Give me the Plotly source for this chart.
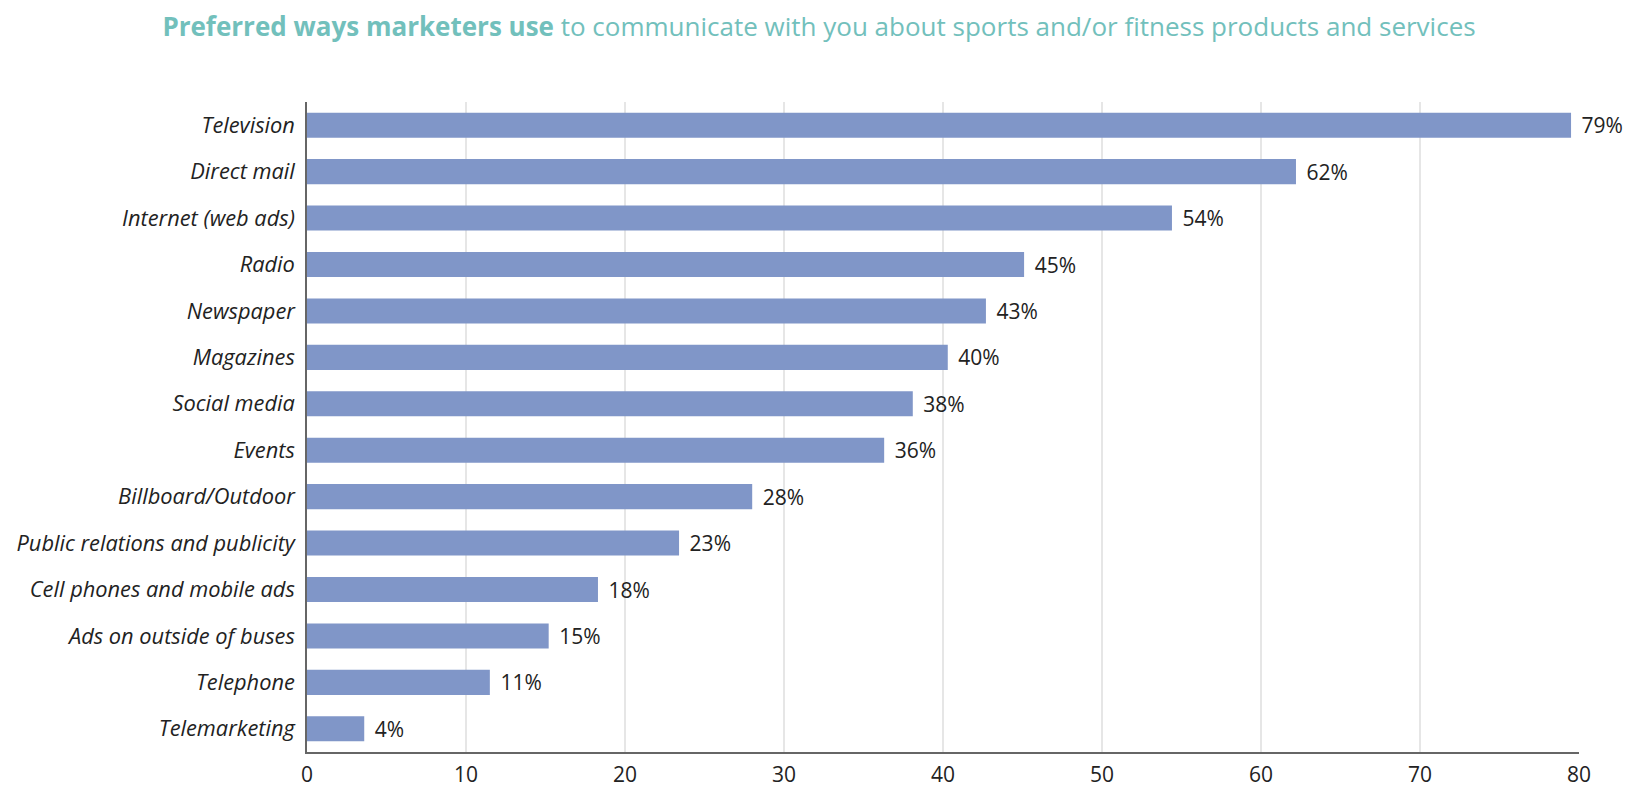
import plotly.graph_objects as go

kategoriak = ['Television', 'Direct mail', 'Internet (web ads)', 'Radio', 'Newspaper',
              'Magazines', 'Social media', 'Events', 'Billboard/Outdoor',
              'Public relations and publicity', 'Cell phones and mobile ads',
              'Ads on outside of buses', 'Telephone', 'Telemarketing']
ertekek = [79.5, 62.2, 54.4, 45.1, 42.7, 40.3, 38.1, 36.3, 28, 23.4, 18.3, 15.2, 11.5, 3.6]
cimkek = ['79%', '62%', '54%', '45%', '43%', '40%', '38%', '36%', '28%', '23%', '18%', '15%', '11%', '4%']

fig = go.Figure(go.Bar(x=ertekek, y=kategoriak,
                       orientation='h',
                       width=0.54,
                       marker={'color': '#8096c8', 'line': {'width': 0}},
                       text=['\u00a0\u200a' + c for c in cimkek],
                       textposition='outside',
                       constraintext='none',
                       cliponaxis=False,
                       textfont={'size': 21, 'color': '#222222'}
                       ))

fig.update_layout(
    title={'text': '<b>Preferred ways marketers use</b> to communicate with you about sports and/or fitness products and services',
           'x': 0.5, 'xanchor': 'center', 'y': 0.988, 'yanchor': 'top',
           'font': {'size': 26, 'color': '#72c0bc'}},
    font={'family': 'Open Sans', 'color': '#222222', 'size': 21},
    plot_bgcolor='white', paper_bgcolor='white',
    showlegend=False,
    width=1622, height=785,
    margin={'l': 299, 'r': 51, 'b': 41, 't': 94},
    xaxis={'range': [0, 80], 'dtick': 10, 'gridcolor': '#e6e6e6', 'gridwidth': 1.5,
           'showline': True, 'linecolor': '#666666', 'linewidth': 1.5, 'zeroline': False,
           'automargin': False, 'ticks': '', 'tickfont': {'size': 21}, 'ticklabelstandoff': 3},
    yaxis={'autorange': 'reversed', 'showline': True, 'linecolor': '#666666', 'linewidth': 1.5,
           'automargin': False, 'ticks': '', 'tickfont': {'size': 21.8, 'style': 'italic'},
           'ticklabelstandoff': 6})

fig.write_html("out.html")
